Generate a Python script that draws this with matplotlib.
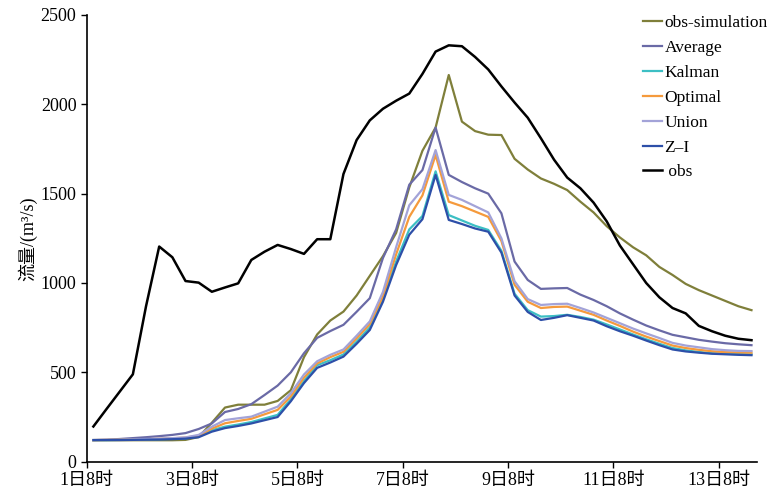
import matplotlib
matplotlib.use("Agg")
import matplotlib.pyplot as plt

# time in hours after 1日8时, one point every 6 hours
hours = [3 + 6 * k for k in range(51)]

obs = [197, 295, 392, 489, 870, 1204, 1144, 1011, 1002, 951,
       975, 998, 1129, 1175, 1213, 1190, 1163, 1245, 1245, 1610,
       1800, 1910, 1975, 2020, 2060, 2170, 2295, 2330, 2325, 2265,
       2195, 2100, 2010, 1925, 1810, 1690, 1590, 1530, 1450, 1345,
       1210, 1105, 1000, 920, 860, 830, 760, 730, 705, 688, 680]
obs_sim = [120, 120, 120, 120, 120, 120, 120, 122, 138, 218,
           303, 319, 319, 319, 340, 400, 585, 712, 790, 840,
           930, 1040, 1150, 1280, 1535, 1740, 1870, 2164, 1903, 1850,
           1830, 1828, 1695, 1635, 1585, 1555, 1520, 1455, 1395, 1318,
           1255, 1200, 1155, 1090, 1045, 995, 960, 930, 900, 870, 848]
average = [121, 123, 127, 132, 137, 143, 150, 160, 183, 214,
           278, 295, 322, 373, 426, 500, 607, 693, 731, 766,
           839, 915, 1140, 1300, 1550, 1632, 1870, 1605, 1565, 1530,
           1500, 1390, 1120, 1017, 967, 970, 972, 935, 905, 870,
           830, 795, 762, 735, 710, 696, 682, 672, 663, 657, 652]
kalman = [121, 121, 122, 123, 124, 126, 128, 131, 142, 176,
          196, 208, 222, 242, 262, 350, 452, 540, 568, 600,
          672, 752, 912, 1120, 1300, 1375, 1625, 1380, 1350, 1320,
          1297, 1180, 940, 848, 812, 815, 822, 810, 795, 768,
          740, 712, 685, 660, 636, 623, 614, 607, 604, 602, 601]
optimal = [121, 122, 123, 124, 126, 128, 131, 135, 146, 185,
           215, 228, 240, 265, 290, 365, 470, 550, 585, 615,
           690, 770, 925, 1160, 1370, 1490, 1716, 1455, 1430, 1400,
           1370, 1235, 990, 895, 860, 866, 868, 845, 822, 790,
           760, 728, 700, 675, 650, 636, 626, 618, 613, 611, 610]
union = [121, 122, 123, 125, 127, 129, 132, 136, 150, 196,
         233, 243, 252, 280, 308, 383, 488, 562, 598, 628,
         705, 785, 950, 1200, 1435, 1525, 1744, 1493, 1465, 1430,
         1395, 1250, 1010, 910, 877, 882, 884, 860, 835, 805,
         775, 745, 718, 692, 665, 650, 640, 630, 624, 620, 619]
zi = [121, 121, 121, 122, 123, 124, 126, 129, 137, 168,
      188, 200, 214, 232, 250, 338, 440, 525, 555, 588,
      660, 737, 895, 1100, 1270, 1357, 1605, 1353, 1330, 1305,
      1287, 1170, 930, 838, 793, 805, 820, 805, 790, 758,
      730, 705, 678, 652, 628, 617, 610, 604, 601, 598, 596]

tick_hours = [0, 48, 96, 144, 192, 240, 288]
tick_labels = ["1日8时", "3日8时", "5日8时", "7日8时", "9日8时", "11日8时", "13日8时"]

fonts = ["Liberation Serif", "Noto Sans CJK SC"]
plt.rcParams["font.family"] = fonts

fig = plt.figure(figsize=(7.82, 4.92), dpi=100)
ax = fig.add_axes([0.111, 0.0616, 0.857, 0.908])

ax.plot(hours, obs_sim, color="#7f7f3a", lw=1.6, label="obs-simulation")
ax.plot(hours, average, color="#6a6aa6", lw=1.6, label="Average")
ax.plot(hours, kalman, color="#3cbfc4", lw=1.6, label="Kalman")
ax.plot(hours, optimal, color="#f59a3c", lw=1.6, label="Optimal")
ax.plot(hours, union, color="#a3a3d8", lw=1.6, label="Union")
ax.plot(hours, zi, color="#2d4fa8", lw=1.6, label="Z\u2013I")
ax.plot(hours, obs, color="black", lw=1.8, label=" obs")

ax.set_xlim(0, 305.5)
ax.set_ylim(0, 2500)
ax.set_xticks(tick_hours)
ax.set_xticklabels(tick_labels)
ax.set_yticks([0, 500, 1000, 1500, 2000, 2500])
ax.tick_params(labelsize=13, direction="out", length=4, width=1)
ax.set_ylabel("流量/(m³/s)", fontsize=13, labelpad=2)

for side in ["top", "right"]:
    ax.spines[side].set_visible(False)
for side in ["left", "bottom"]:
    ax.spines[side].set_linewidth(1.2)

ax.legend(loc="upper right", bbox_to_anchor=(0.995, 0.99), bbox_transform=fig.transFigure,
          frameon=False, fontsize=12.5, handlelength=1.1, handletextpad=0.15,
          labelspacing=0.5, borderaxespad=0.2)

fig.savefig("out.png", dpi=100)
